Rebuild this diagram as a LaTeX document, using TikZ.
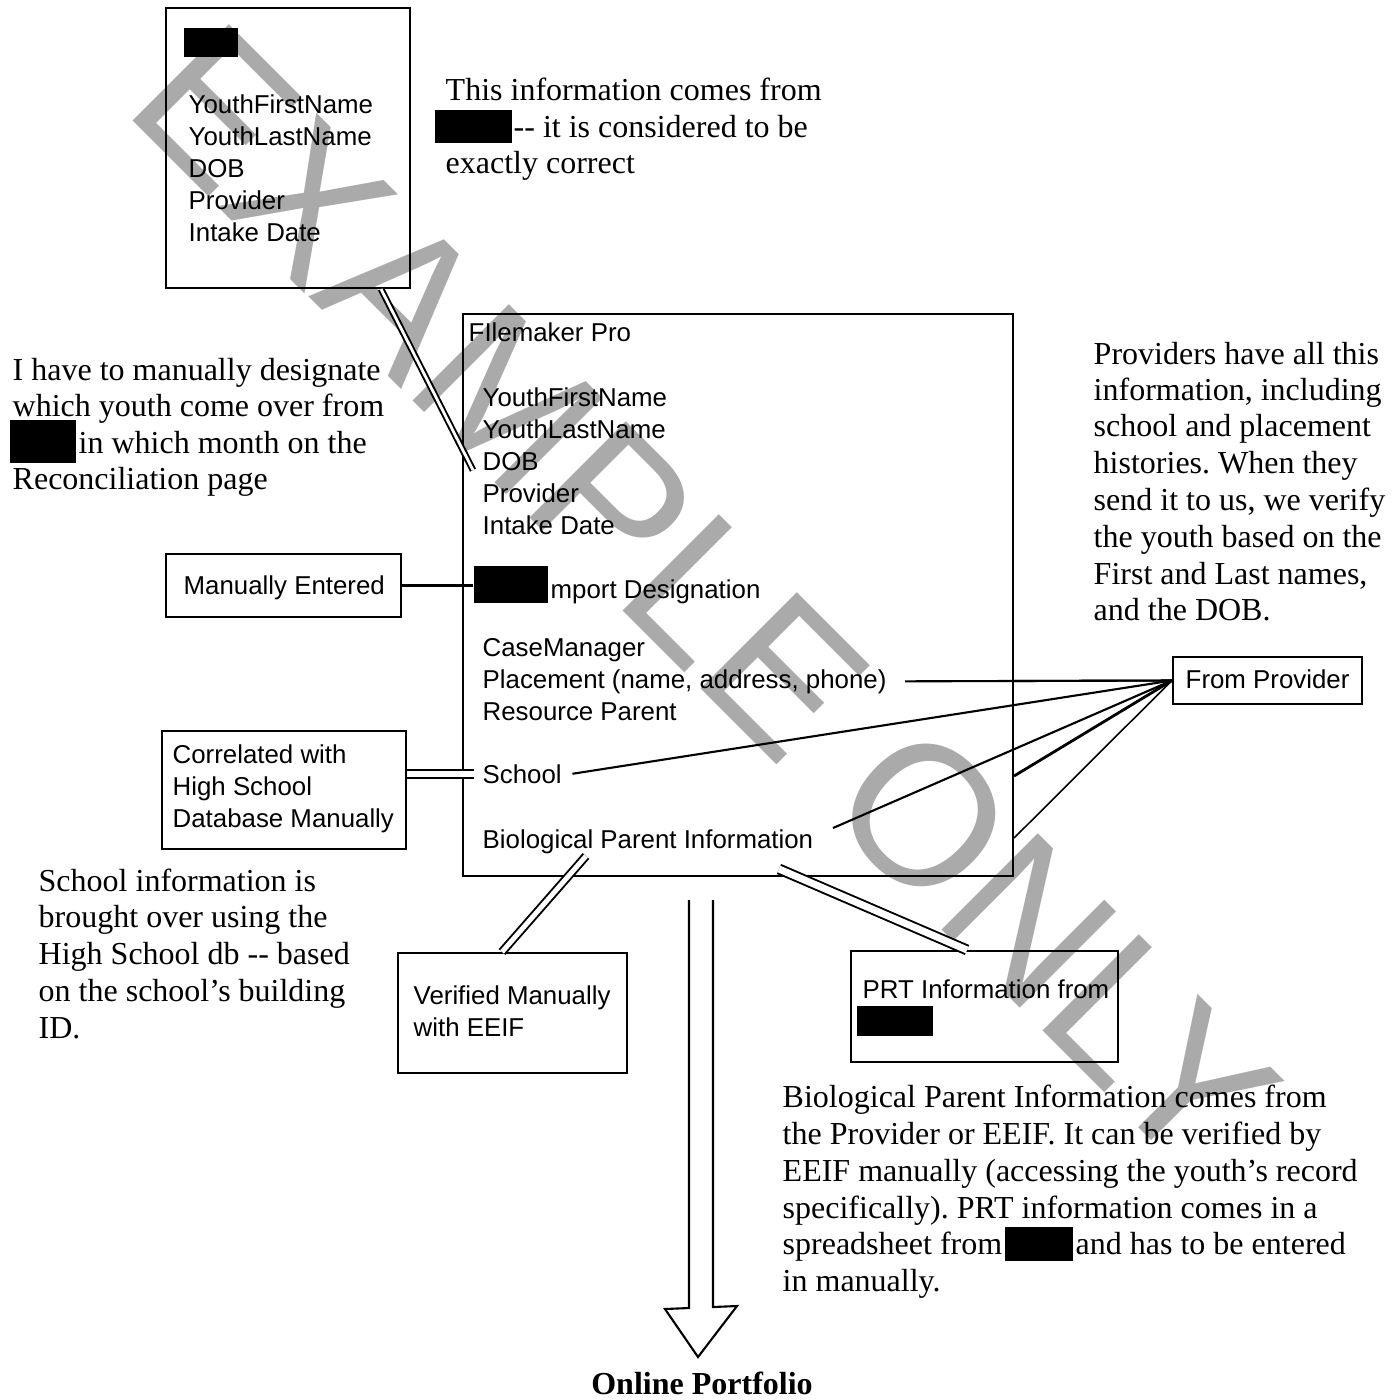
\documentclass[tikz,border=0pt]{standalone}
\usepackage{fontspec}
\setmainfont{Liberation Serif}
\newfontfamily\boxfont{Liberation Sans}
\usetikzlibrary{fit}
\definecolor{wmgray}{RGB}{170,170,170}
\frenchspacing
\tikzset{
  serif/.style={font=\fontsize{9.1}{10.5}\selectfont, anchor=base west, inner sep=0pt},
  sans/.style={font=\boxfont\fontsize{7.35}{9}\selectfont, anchor=base west, inner sep=0pt},
  box/.style={draw, line width=0.6pt, inner sep=0pt},
  redact/.style={fill=black, inner sep=0pt},
  conn/.style={line width=0.6pt},
  dbl/.style={double, line width=0.55pt, double distance=#1},
}
\begin{document}
\begin{tikzpicture}[x=0.01cm, y=-0.01cm]
\useasboundingbox (0,0) rectangle (1400,1399);
% watermark
\node[font=\boxfont\fontsize{56.3}{60}\selectfont, text=wmgray, rotate=-45, inner sep=0pt] (wm) at (705,597) {EXAMPLE ONLY};

% source box (top)
\node[box, fit={(166,8) (410,288)}] (src) {};
\node[redact, fit={(184,28) (238,57)}] (srcred) {};
\node[sans] (s1) at (188,113) {YouthFirstName};
\node[sans] (s2) at (188,145) {YouthLastName};
\node[sans] (s3) at (188,177) {DOB};
\node[sans] (s4) at (188,209) {Provider};
\node[sans] (s5) at (188,241) {Intake Date};

% top note
\node[serif] (n1) at (445,100) {This information comes from};
\node[redact, fit={(435,110) (512,143)}] (n2red) {};
\node[serif] (n2) at (513,137) {-{}- it is considered to be};
\node[serif] (n3) at (445,173) {exactly correct};

% Filemaker box
\node[box, fit={(463,314) (1013,876)}] (fm) {};
\node[sans] (fmt) at (468,341) {FIlemaker Pro};
\node[sans] (f1) at (482,406) {YouthFirstName};
\node[sans] (f2) at (482,438) {YouthLastName};
\node[sans] (dob) at (482,470) {DOB};
\node[sans] (f4) at (482,502) {Provider};
\node[sans] (f5) at (482,534) {Intake Date};
\node[redact, fit={(474,566) (548,603)}] (imp) {};
\node[sans] (imptxt) at (550,598) {mport Designation};
\node[sans] (cm) at (482,656) {CaseManager};
\node[sans] (place) at (482,688) {Placement (name, address, phone)};
\node[sans] (rp) at (482,720) {Resource Parent};
\node[sans] (school) at (482,783) {School};
\node[sans] (bio) at (482,848) {Biological Parent Information};

% left note
\node[serif] (l1) at (12,380) {I have to manually designate};
\node[serif] (l2) at (12,416) {which youth come over from};
\node[redact, fit={(10,420) (76,463)}] (l3red) {};
\node[serif] (l3) at (78,453) {in which month on the};
\node[serif] (l4) at (12,489) {Reconciliation page};

% Manually entered
\node[box, fit={(166,554) (401,617)}] (me) {};
\node[sans] (metxt) at (183,594) {Manually Entered};

% Correlated
\node[box, fit={(162,731) (406,849)}] (corr) {};
\node[sans] (c1) at (172,763) {Correlated with};
\node[sans] (c2) at (172,795) {High School};
\node[sans] (c3) at (172,827) {Database Manually};

% school note
\node[serif] (sc1) at (38,891) {School information is};
\node[serif] (sc2) at (38,927) {brought over using the};
\node[serif] (sc3) at (38,964) {High School db -{}- based};
\node[serif] (sc4) at (38,1001) {on the school’s building};
\node[serif] (sc5) at (38,1038) {ID.};

% Verified
\node[box, fit={(398,953) (627,1073)}] (ver) {};
\node[sans] (v1) at (413,1004) {Verified Manually};
\node[sans] (v2) at (413,1036) {with EEIF};

% PRT
\node[box, fit={(851,951) (1118,1062)}] (prt) {};
\node[sans] (p1) at (862,998) {PRT Information from};
\node[redact, fit={(857,1006) (933,1036)}] (p2red) {};

% From Provider
\node[box, fit={(1173,657) (1362,704)}] (fp) {};
\node[sans] (fptxt) at (1185,688) {From Provider};

% right note
\node[serif] (r1) at (1093,364) {Providers have all this};
\node[serif] (r2) at (1093,400) {information, including};
\node[serif] (r3) at (1093,436) {school and placement};
\node[serif] (r4) at (1093,473) {histories. When they};
\node[serif] (r5) at (1093,510) {send it to us, we verify};
\node[serif] (r6) at (1093,547) {the youth based on the};
\node[serif] (r7) at (1093,584) {First and Last names,};
\node[serif] (r8) at (1093,620) {and the DOB.};

% bottom note
\node[serif] (b1) at (782,1107) {Biological Parent Information comes from};
\node[serif] (b2) at (782,1144) {the Provider or EEIF. It can be verified by};
\node[serif] (b3) at (782,1181) {EEIF manually (accessing the youth’s record};
\node[serif] (b4) at (782,1218) {specifically). PRT information comes in a};
\node[serif] (b5) at (782,1254) {spreadsheet from};
\node[redact, fit={(1005,1227) (1073,1261)}] (b5red) {};
\node[serif] (b5b) at (1075,1254) {and has to be entered};
\node[serif] (b6) at (782,1291) {in manually.};

% output
\node[font=\bfseries\fontsize{9.1}{10.5}\selectfont, anchor=base, inner sep=0pt] (op) at (702,1394) {Online Portfolio};

% connectors
\coordinate (bioL) at (586,856);
\coordinate (bioB) at (779,869);
\coordinate (bioR) at (833,828);
\draw[conn, dbl=0.8pt] ([xshift=-0.3cm]src.south east) -- ([xshift=-0.09cm,yshift=-0.09cm]dob.west);
\draw[line width=1.1pt] (me.east) -- (me.east -| imp.west);
\draw[conn, dbl=1.6pt] (corr.east |- school.west) -- ([xshift=-0.08cm]school.west);
\draw[conn] ([xshift=0.18cm]place.east) -- (fp.west);
\draw[conn] (fm.east |- 0,681) -- (fp.west);
\draw[conn] ([xshift=0.1cm]school.east) -- (fp.west);
\draw[conn] (bioR) -- (fp.west);
\draw[line width=0.8pt] (fm.east |- 0,776) -- (fp.west);
\draw[line width=0.45pt] (fm.east |- 0,838) -- (fp.west);
\draw[conn, dbl=1.4pt] ([xshift=1.05cm]ver.north west) -- (bioL);
\draw[conn, dbl=2pt] ([xshift=1.17cm]prt.north west) -- (bioB);

% block arrow to Online Portfolio
\coordinate (arrL) at (689,900);
\coordinate (arrR) at (713,900);
\draw[conn, line join=miter] (arrL) -- (689,1308) -- (665,1309) -- (698,1357) -- (737,1306) -- (713,1307) -- (arrR);
\end{tikzpicture}
\end{document}
